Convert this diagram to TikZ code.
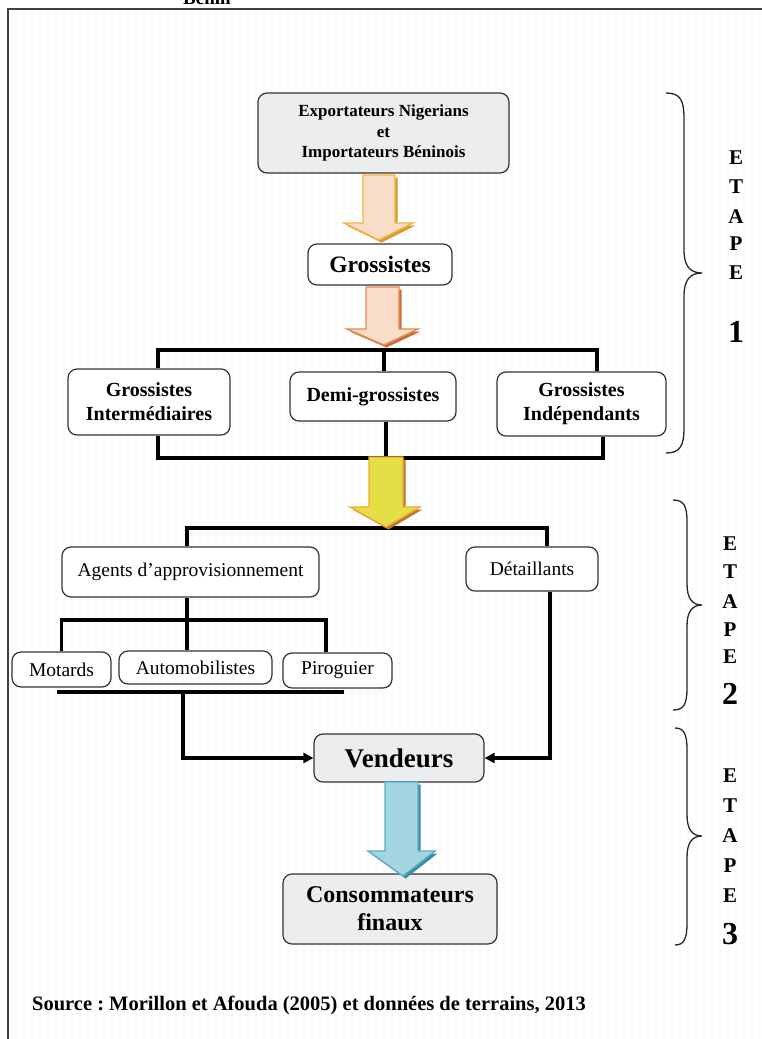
\documentclass[tikz,border=0pt]{standalone}
\usepackage{fontspec}
\setmainfont{Liberation Serif}
\usetikzlibrary{arrows.meta,patterns.meta}
\frenchspacing
\definecolor{boxgray}{HTML}{ECEDEF}
\definecolor{dotgray}{HTML}{D4D4D4}
\definecolor{aAfi}{HTML}{F9DDC9}
\definecolor{aAln}{HTML}{F2B53C}
\definecolor{aAsh}{HTML}{D49A30}
\definecolor{aBfi}{HTML}{F9DDC9}
\definecolor{aBln}{HTML}{E98A4E}
\definecolor{aBsh}{HTML}{C46E3A}
\definecolor{aCfi}{HTML}{E3DF45}
\definecolor{aCln}{HTML}{F2AC35}
\definecolor{aCsh}{HTML}{B9792E}
\definecolor{aDfi}{HTML}{A5D5E1}
\definecolor{aDln}{HTML}{56AFC7}
\definecolor{aDsh}{HTML}{3C8AA3}
\newcommand{\myfs}[2]{\fontsize{#1}{#2}\selectfont}
\tikzdeclarepattern{
  name=bgdots,
  type=colored,
  bounding box={(-4pt,-4pt) and (4pt,4pt)},
  tile size={(8pt,8pt)},
  code={\fill[dotgray] (0pt,0pt) circle (0.6pt);}
}
% #1 shaft left, #2 shaft right, #3 top, #4 head y, #5 head left, #6 head right, #7 tip x, #8 tip y, #9 colour scheme
\newcommand{\myblockarrow}[9]{%
  \begin{scope}[shift={(2.5,2.5)}]
    \fill[#9sh] (#1,#3) -- (#2,#3) -- (#2,#4) -- (#6,#4) -- (#7,#8) -- (#5,#4) -- (#1,#4) -- cycle;
  \end{scope}
  \filldraw[fill=#9fi, draw=#9ln, line width=1.4pt] (#1,#3) -- (#2,#3) -- (#2,#4) -- (#6,#4) -- (#7,#8) -- (#5,#4) -- (#1,#4) -- cycle;
}
\begin{document}
\begin{tikzpicture}[x=1pt,y=-1pt,
  box/.style={draw=black!80, line width=1.2pt, rounded corners=9pt, fill=white, align=center, inner sep=0pt},
  gbox/.style={box, fill=boxgray},
  bt/.style={font=\bfseries\myfs{20}{24}},
  rt/.style={font=\myfs{19.5}{23}},
  conn/.style={line width=3.2pt, black},
  tip/.style={-{Triangle[length=10pt,width=10pt]}},
  brace/.style={line width=1.3pt, black!85},
  stg/.style={font=\bfseries\myfs{21}{24}, inner sep=0pt},
  stgd/.style={font=\bfseries\myfs{32}{36}, inner sep=0pt}]
\useasboundingbox (0,0) rectangle (762,1039);
\fill[white] (0,0) rectangle (762,1039);
\fill[pattern=bgdots] (8,9) rectangle (762,1039);
\draw[line width=1.5pt, black!75] (8,1039) -- (8,9) -- (762,9);
\node[font=\bfseries\myfs{19}{22}, anchor=base, inner sep=0pt] (ttl) at (207,4) {Bénin};

% boxes
\node[gbox, minimum width=251pt, minimum height=80pt, font=\bfseries\myfs{17}{20.5}] (exp) at (383.5,133) {Exportateurs Nigerians\\et\\Importateurs Béninois};
\node[box, minimum width=144pt, minimum height=41pt, font=\bfseries\myfs{23.5}{26}] (gro) at (380,264.5) {Grossistes};
\node[box, bt, minimum width=162pt, minimum height=66pt] (gi) at (149,402) {Grossistes\\Intermédiaires};
\node[box, bt, minimum width=166pt, minimum height=49pt] (demi) at (373,396.5) {Demi-grossistes};
\node[box, bt, minimum width=169pt, minimum height=64pt] (gind) at (581.5,404) {Grossistes\\Indépendants};
\node[box, rt, minimum width=257pt, minimum height=50pt] (agents) at (190.5,572) {Agents d’approvisionnement};
\node[box, rt, minimum width=132pt, minimum height=44pt] (det) at (532,569) {Détaillants};
\node[box, rt, minimum width=99pt, minimum height=35pt] (mot) at (61.5,669.5) {Motards};
\node[box, rt, minimum width=153pt, minimum height=33pt] (auto) at (195.5,667.5) {Automobilistes};
\node[box, rt, minimum width=109pt, minimum height=35pt] (pir) at (337.5,670.5) {Piroguier};
\node[gbox, minimum width=170pt, minimum height=48pt, font=\bfseries\myfs{27}{30}] (vend) at (399,758) {Vendeurs};
\node[gbox, minimum width=214pt, minimum height=70pt, font=\bfseries\myfs{24}{28}] (cons) at (390,909) {Consommateurs\\finaux};

% connectors stage 1
\coordinate (h1) at (384,350);
\draw[conn] ([xshift=9pt]gi.north) |- (h1) -| ([xshift=15.5pt]gind.north);
\draw[conn] (h1) -- (h1 |- demi.north);
\coordinate (h2) at (386,458);
\draw[conn] ([xshift=9pt]gi.south) |- (h2) -| ([xshift=21.5pt]gind.south);
\draw[conn] (demi.south -| h2) -- (h2);

% connectors stage 2
\coordinate (h3) at (386,528);
\draw[conn] ([xshift=-3.5pt]agents.north) |- (h3) -| ([xshift=15pt]det.north);
\coordinate (h4) at (187,620);
\draw[conn] (agents.south -| h4) -- (h4);
\draw[conn] (mot.north) |- (h4) -| ([xshift=-11.5pt]pir.north);
\draw[conn] (h4) -- (h4 |- auto.north);
\coordinate (u1) at (57,692);
\coordinate (u2) at (344,692);
\coordinate (u3) at (183,692);
\draw[conn] (u1) -- (u2);
\draw[conn, tip] (u3) |- (vend.west);
\draw[conn, tip] ([xshift=18pt]det.south) |- (vend.east);

% block arrows
\myblockarrow{363}{395}{175}{223}{344}{413}{379}{240}{aA}
\myblockarrow{366}{399}{287}{329}{347}{418}{384}{345}{aB}
\myblockarrow{369}{403}{457}{507}{350}{420}{386}{527}{aC}
\myblockarrow{385}{418}{782}{851}{368}{435}{403}{876}{aD}

% braces
\draw[brace] (666,93) .. controls (680,93) and (684,100) .. (684,118) -- (684,250) .. controls (684,266) and (690,273) .. (702,273) .. controls (690,273) and (684,280) .. (684,296) -- (684,428) .. controls (684,446) and (680,453) .. (666,453);
\draw[brace] (673,500) .. controls (684,500) and (687,506) .. (687,522) -- (687,584) .. controls (687,598) and (692,605) .. (702,605) .. controls (692,605) and (687,612) .. (687,626) -- (687,688) .. controls (687,704) and (684,710) .. (673,710);
\draw[brace] (675,728) .. controls (684,728) and (687,734) .. (687,750) -- (687,815) .. controls (687,829) and (692,836) .. (702,836) .. controls (692,836) and (687,843) .. (687,857) -- (687,923) .. controls (687,939) and (684,945) .. (675,945);

% stage labels
\node[stg] (s1a) at (736,158) {E};
\node[stg] (s1b) at (736,187) {T};
\node[stg] (s1c) at (736,217) {A};
\node[stg] (s1d) at (736,244) {P};
\node[stg] (s1e) at (736,273) {E};
\node[stgd] (s1n) at (736,332) {1};
\node[stg] (s2a) at (730,544) {E};
\node[stg] (s2b) at (730,572) {T};
\node[stg] (s2c) at (730,602) {A};
\node[stg] (s2d) at (730,630) {P};
\node[stg] (s2e) at (730,657) {E};
\node[stgd] (s2n) at (730,694) {2};
\node[stg] (s3a) at (730,776) {E};
\node[stg] (s3b) at (730,806) {T};
\node[stg] (s3c) at (730,836) {A};
\node[stg] (s3d) at (730,866) {P};
\node[stg] (s3e) at (730,896) {E};
\node[stgd] (s3n) at (730,934) {3};

% source
\node[font=\bfseries\myfs{20.5}{24}, anchor=west, inner sep=0pt] (src) at (32,1005) {Source : Morillon et Afouda (2005) et données de terrains, 2013};
\end{tikzpicture}
\end{document}
